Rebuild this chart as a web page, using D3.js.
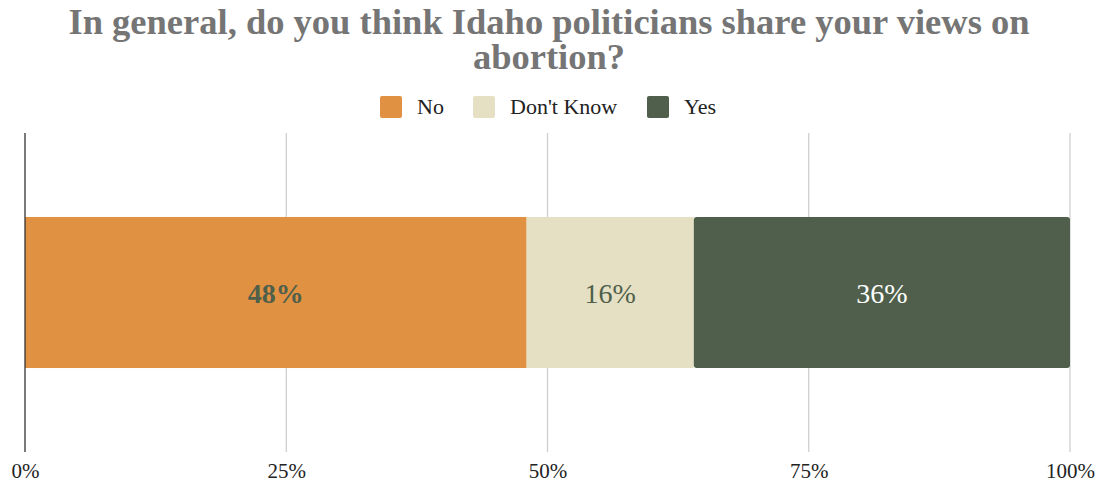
<!DOCTYPE html>
<html><head><meta charset="utf-8">
<script src="https://cdn.jsdelivr.net/npm/d3@7"></script>
<style>body{margin:0;background:#fff}svg{display:block}</style>
</head><body>
<svg id="c" width="1101" height="484"></svg>
<script>
const titleLines = ["In general, do you think Idaho politicians share your views on", "abortion?"];
const categories = ["No", "Don't Know", "Yes"];
const values = [48, 16, 36];
const colors = ["#E09142", "#E5E0C3", "#4F5F4B"];
const labelColors = ["#4F5F4B", "#4F5F4B", "#FFFFFF"];
const labelWeights = ["bold", "normal", "normal"];
const ticks = [0, 25, 50, 75, 100];

const svg = d3.select("#c");
const font = "'Liberation Serif','Times New Roman',serif";
const x = d3.scaleLinear().domain([0, 100]).range([25, 1070]);
const y = d3.scaleBand().domain(["row"]).range([133, 452]).paddingInner(0).paddingOuter(0.556);

// title (one text element, two lines)
const title = svg.append("text").attr("text-anchor", "middle").attr("font-family", font)
  .attr("font-weight", "bold").attr("font-size", 36.5).attr("fill", "#757575");
title.selectAll("tspan").data(titleLines).join("tspan")
  .attr("x", 549).attr("y", (d, i) => 34 + i * 35).text(d => d);

// legend
const legendX = [380, 473, 647];
const lg = svg.append("g").selectAll("g").data(categories).join("g")
  .attr("transform", (d, i) => `translate(${legendX[i]},96)`);
lg.append("rect").attr("width", 22).attr("height", 22).attr("rx", 2).attr("fill", (d, i) => colors[i]);
lg.append("text").attr("x", 37).attr("y", 18).attr("font-family", font).attr("font-size", 22)
  .attr("fill", "#222").text(d => d);

// grid
svg.append("g").selectAll("line").data(ticks.slice(1)).join("line")
  .attr("x1", d => x(d)).attr("x2", d => x(d)).attr("y1", 133).attr("y2", 452)
  .attr("stroke", "#cccccc").attr("stroke-width", 1.2);

// stacked bar
let acc = 0;
const segs = values.map((v, i) => { const s = {v, i, x0: acc, x1: acc + v}; acc += v; return s; });
const bg = svg.append("g");
bg.selectAll("rect").data(segs).join("rect")
  .attr("x", d => x(d.x0)).attr("width", d => x(d.x1) - x(d.x0))
  .attr("y", y("row")).attr("height", y.bandwidth())
  .attr("rx", d => d.i === segs.length - 1 ? 3 : 0)
  .attr("fill", d => colors[d.i]);
bg.selectAll("text").data(segs).join("text")
  .attr("x", d => (x(d.x0) + x(d.x1)) / 2).attr("y", y("row") + y.bandwidth() / 2 + 10)
  .attr("text-anchor", "middle").attr("font-family", font).attr("font-size", 28)
  .attr("font-weight", d => labelWeights[d.i]).attr("fill", d => labelColors[d.i])
  .text(d => d.v + "%");

// zero axis line
svg.append("line").attr("x1", x(0)).attr("x2", x(0)).attr("y1", 133).attr("y2", 452)
  .attr("stroke", "#333").attr("stroke-width", 1.3);

// tick labels
const axis = d3.axisBottom(x).tickValues(ticks).tickFormat(d => d + "%").tickSize(0).tickPadding(10);
const ag = svg.append("g").attr("transform", "translate(0,459)").call(axis);
ag.select(".domain").remove();
ag.selectAll("text").attr("font-family", font).attr("font-size", 21).attr("fill", "#222").attr("dy", "0.45em");
</script>
</body></html>
